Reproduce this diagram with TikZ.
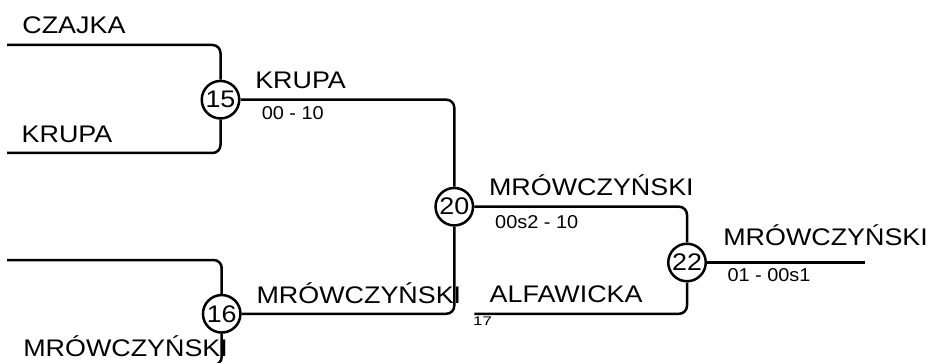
\documentclass[tikz,border=0pt]{standalone}
\usepackage{fontspec}
\setmainfont{Liberation Sans}
\newfontfamily\namefont[FakeStretch=1.12]{Liberation Sans}
\newfontfamily\numfont[FakeStretch=1.12]{Liberation Sans}
\newfontfamily\scorefont[FakeStretch=1.07]{Liberation Sans}
\newfontfamily\seedfont[FakeStretch=1.35]{Liberation Sans}
\begin{document}
\begin{tikzpicture}[x=1pt,y=-1pt,
    wire/.style={line width=2.5pt,rounded corners=8pt},
    match/.style={draw,circle,line width=2.5pt,minimum size=37.5pt,inner sep=0pt,font=\numfont\fontsize{24}{24}\selectfont},
    player/.style={anchor=base west,inner sep=0pt,font=\namefont\fontsize{24}{24}\selectfont},
    score/.style={anchor=base west,inner sep=0pt,font=\scorefont\fontsize{18.6}{18.6}\selectfont}]
  \useasboundingbox (0,0) rectangle (928,363);
  \clip (0,0) rectangle (928,363);

  \node[match] (m15) at (220.5,99.7) {15};
  \node[match] (m20) at (454.3,206.7) {20};
  \node[match] (m16) at (221.7,313.8) {16};
  \node[match] (m22) at (687,262.5) {22};

  \coordinate (s1) at (7,45);
  \coordinate (s2) at (7,153);
  \coordinate (s3) at (7,260);
  \coordinate (s4) at (7,365);
  \coordinate (s5) at (474.3,313.8);
  \coordinate (fin) at (865,262.5);

  \draw[wire] (s1) -| (m15);
  \draw[wire] (s2) -| (m15);
  \draw[wire] (s3) -| (m16);
  \draw[wire] (s4) -| (m16);
  \draw[wire] (m15) -| (m20);
  \draw[wire] (m16) -| (m20);
  \draw[wire] (m20) -| (m22);
  \draw[wire] (s5) -| (m22);
  \draw[wire] (m22) -- (fin);

  \node[player] (czajka) at (22.2,33.3) {CZAJKA};
  \node[player] (krupaA) at (21.5,142.7) {KRUPA};
  \node[player] (krupaB) at (255.1,88.3) {KRUPA};
  \node[score] (sc15) at (261.6,120) {00 - 10};
  \node[player] (mrowA) at (256.4,303.3) {MRÓWCZYŃSKI};
  \node[player] (mrowB) at (23.1,356) {MRÓWCZYŃSKI};
  \node[player] (mrowC) at (488.9,196) {MRÓWCZYŃSKI};
  \node[score] (sc20) at (495,228.3) {00s2 - 10};
  \node[player] (alfa) at (489.5,302.7) {ALFAWICKA};
  \node[anchor=base west,inner sep=0pt,font=\seedfont\fontsize{12.5}{12.5}\selectfont] (seed) at (473,325.5) {17};
  \node[player] (mrowD) at (723.1,245.7) {MRÓWCZYŃSKI};
  \node[score] (sc22) at (727.3,281.7) {01 - 00s1};
\end{tikzpicture}
\end{document}
